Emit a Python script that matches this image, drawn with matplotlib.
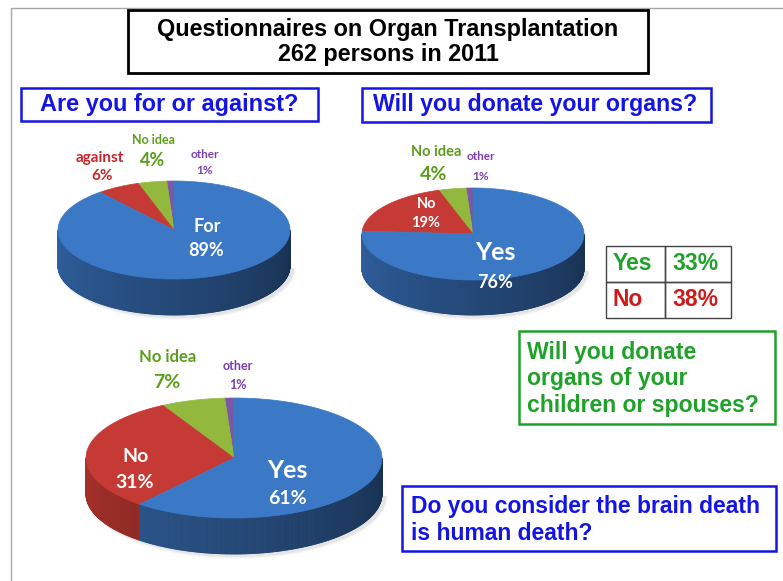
import matplotlib

matplotlib.use("Agg")
import matplotlib.pyplot as plt  # noqa: E402
import numpy as np  # noqa: E402
from matplotlib.collections import PolyCollection  # noqa: E402
from matplotlib.colors import to_rgb  # noqa: E402
from matplotlib.patches import Polygon, Rectangle  # noqa: E402

# --- data (slices listed counter-clockwise starting at 12 o'clock) ---
q1_labels = ["other", "No idea", "against", "For"]
q1_values = [1, 4, 6, 89]
q2_labels = ["other", "No idea", "No", "Yes"]
q2_values = [1, 4, 19, 76]
q3_labels = ["other", "No idea", "No", "Yes"]
q3_values = [1, 7, 31, 61]
q4_labels = ["Yes", "No"]
q4_values = [33, 38]

# colours: top face, side wall
TOP = {"purple": "#7b57a8", "green": "#92b93e", "red": "#c53a34", "blue": "#3b79c6"}
SIDE = {"purple": "#5d3f82", "green": "#6f8f2c", "red": "#a8312b", "blue": "#30609f"}
slice_colors = ["purple", "green", "red", "blue"]

TXT_GREEN = "#1fa12a"
TXT_RED = "#cc1b1b"
TXT_BLUE = "#1414e6"
LAB_GREEN = "#5c9e1c"
LAB_PURPLE = "#7a3fb0"
LAB_RED = "#c8252a"

LABEL_FONT = ["Lato", "DejaVu Sans"]
BOX_FONT = ["Liberation Sans", "DejaVu Sans"]


def pie3d(ax, values, cx, cy, a, b, depth):
    vals = np.asarray(values, dtype=float)
    fr = vals / vals.sum()
    starts = 90 + 360 * np.concatenate([[0], np.cumsum(fr)[:-1]])
    ends = starts + 360 * fr

    # faint shadow under the disc
    for k, al in zip([10, 6, 3], [0.05, 0.07, 0.09]):
        tt = np.radians(np.linspace(180, 360, 120))
        xs = cx + (a + k * 0.3) * np.cos(tt) + 3
        ys = cy - (b + k * 0.3) * np.sin(tt) + depth + 2
        ax.add_patch(Polygon(np.column_stack([xs, ys]), closed=True,
                             facecolor="grey", edgecolor="none", alpha=al,
                             zorder=1))

    # side walls in thin strips, darker to the right
    quads, cols = [], []
    for s, e, c in zip(starts, ends, slice_colors):
        ts = np.linspace(s, e, max(int((e - s) * 2), 2))
        base = np.array(to_rgb(SIDE[c]))
        for t0, t1 in zip(ts[:-1], ts[1:]):
            m = ((t0 + t1) / 2) % 360
            if np.sin(np.radians(m)) >= 0:
                continue
            r0, r1 = np.radians(t0), np.radians(t1)
            p0 = (cx + a * np.cos(r0), cy - b * np.sin(r0))
            p1 = (cx + a * np.cos(r1), cy - b * np.sin(r1))
            quads.append([p0, p1, (p1[0], p1[1] + depth), (p0[0], p0[1] + depth)])
            f = 1.0 - 0.5 * (m - 180) / 180
            cols.append(np.clip(base * f, 0, 1))
    ax.add_collection(PolyCollection(quads, facecolors=cols, edgecolors=cols,
                                     linewidths=0.6, zorder=2))

    # top faces
    for s, e, c in zip(starts, ends, slice_colors):
        tt = np.radians(np.linspace(s, e, max(int(e - s), 2)))
        xs = np.concatenate([[cx], cx + a * np.cos(tt)])
        ys = np.concatenate([[cy], cy - b * np.sin(tt)])
        ax.add_patch(Polygon(np.column_stack([xs, ys]), closed=True,
                             facecolor=TOP[c], edgecolor=TOP[c], lw=0.5,
                             zorder=3))


def box(ax, x0, y0, x1, y1, color, lw=1.8):
    ax.add_patch(Rectangle((x0, y0), x1 - x0, y1 - y0, fill=False,
                           edgecolor=color, lw=lw, zorder=5))


def lab(ax, x, y, s, color, size):
    ax.text(x, y, s, color=color, fontsize=size, fontweight="bold",
            family=LABEL_FONT, ha="center", va="center", zorder=6)


fig = plt.figure(figsize=(7.83, 5.81), dpi=100)
ax = fig.add_axes([0, 0, 1, 1])
ax.set_xlim(0, 783)
ax.set_ylim(581, 0)
ax.axis("off")

# page frame
ax.plot([11, 11, 783], [581, 8, 8], color="#a8a8a8", lw=1, zorder=1)

# title
box(ax, 128, 10, 648, 73, "black", lw=2)
ax.text(388, 42, "Questionnaires on Organ Transplantation\n262 persons in 2011",
        fontsize=16.8, fontweight="bold", family=BOX_FONT, ha="center",
        va="center", linespacing=1.16, zorder=6)

# question boxes
box(ax, 21, 88, 318, 121, TXT_BLUE)
ax.text(169.5, 105, "Are you for or against?", color=TXT_BLUE, fontsize=16.9,
        fontweight="bold", family=BOX_FONT, ha="center", va="center", zorder=6)
box(ax, 362, 88, 711, 122, TXT_BLUE)
ax.text(535, 105, "Will you donate your organs?", color=TXT_BLUE,
        fontsize=16.7, fontweight="bold", family=BOX_FONT, ha="center",
        va="center", zorder=6)
box(ax, 519, 331, 775, 424, TXT_GREEN)
ax.text(527, 379, "Will you donate\norgans of your\nchildren or spouses?",
        color=TXT_GREEN, fontsize=16.6, fontweight="bold", family=BOX_FONT,
        ha="left", va="center", linespacing=1.17, zorder=6)
box(ax, 402, 486, 776, 551, TXT_BLUE)
ax.text(411, 520, "Do you consider the brain death\nis human death?",
        color=TXT_BLUE, fontsize=16.5, fontweight="bold", family=BOX_FONT,
        ha="left", va="center", linespacing=1.2, zorder=6)

# small yes/no table
col_x = [606, 665, 731]
row_y = [246, 282, 318]
tbl_colors = [TXT_GREEN, TXT_RED]
for i, (name, val) in enumerate(zip(q4_labels, q4_values)):
    y0, y1 = row_y[i], row_y[i + 1]
    for j in range(2):
        ax.add_patch(Rectangle((col_x[j], y0), col_x[j + 1] - col_x[j], y1 - y0,
                               fill=False, edgecolor="#444444", lw=1, zorder=5))
    ym = (y0 + y1) / 2
    ax.text(613, ym, name, color=tbl_colors[i], fontsize=16.5, fontweight="bold",
            family=BOX_FONT, ha="left", va="center", zorder=6)
    ax.text(672, ym, f"{val}%", color=tbl_colors[i], fontsize=16.5,
            fontweight="bold", family=BOX_FONT, ha="left", va="center", zorder=6)

# pie 1: for or against
pie3d(ax, q1_values, 174, 230, 116, 49, 36)
lab(ax, 100, 158, q1_labels[2], LAB_RED, 11)
lab(ax, 102, 176, f"{q1_values[2]}%", LAB_RED, 11)
lab(ax, 153, 140, q1_labels[1], LAB_GREEN, 9)
lab(ax, 153, 160, f"{q1_values[1]}%", LAB_GREEN, 13)
lab(ax, 205, 155, q1_labels[0], LAB_PURPLE, 8.5)
lab(ax, 205, 171, f"{q1_values[0]}%", LAB_PURPLE, 8.5)
lab(ax, 207, 227, q1_labels[3], "white", 13)
lab(ax, 206, 251, f"{q1_values[3]}%", "white", 13)

# pie 2: donate own organs
pie3d(ax, q2_values, 473, 234, 111, 46, 35)
lab(ax, 436, 152, q2_labels[1], LAB_GREEN, 10.5)
lab(ax, 434, 175, f"{q2_values[1]}%", LAB_GREEN, 14)
lab(ax, 481, 157, q2_labels[0], LAB_PURPLE, 8.5)
lab(ax, 481, 177, f"{q2_values[0]}%", LAB_PURPLE, 8.5)
lab(ax, 427, 204, q2_labels[2], "white", 10.5)
lab(ax, 426, 223, f"{q2_values[2]}%", "white", 10.5)
lab(ax, 495, 253, q2_labels[3], "white", 18)
lab(ax, 495, 283, f"{q2_values[3]}%", "white", 13)

# pie 3: brain death
pie3d(ax, q3_values, 234, 458, 148, 60, 36)
lab(ax, 168, 357, q3_labels[1], LAB_GREEN, 12)
lab(ax, 167, 382, f"{q3_values[1]}%", LAB_GREEN, 14)
lab(ax, 238, 366, q3_labels[0], LAB_PURPLE, 9)
lab(ax, 238, 385, f"{q3_values[0]}%", LAB_PURPLE, 9)
lab(ax, 135, 457, q3_labels[2], "white", 14)
lab(ax, 135, 482, f"{q3_values[2]}%", "white", 14)
lab(ax, 287, 470, q3_labels[3], "white", 18)
lab(ax, 287, 498, f"{q3_values[3]}%", "white", 14)

fig.savefig("out.png", dpi=100)
